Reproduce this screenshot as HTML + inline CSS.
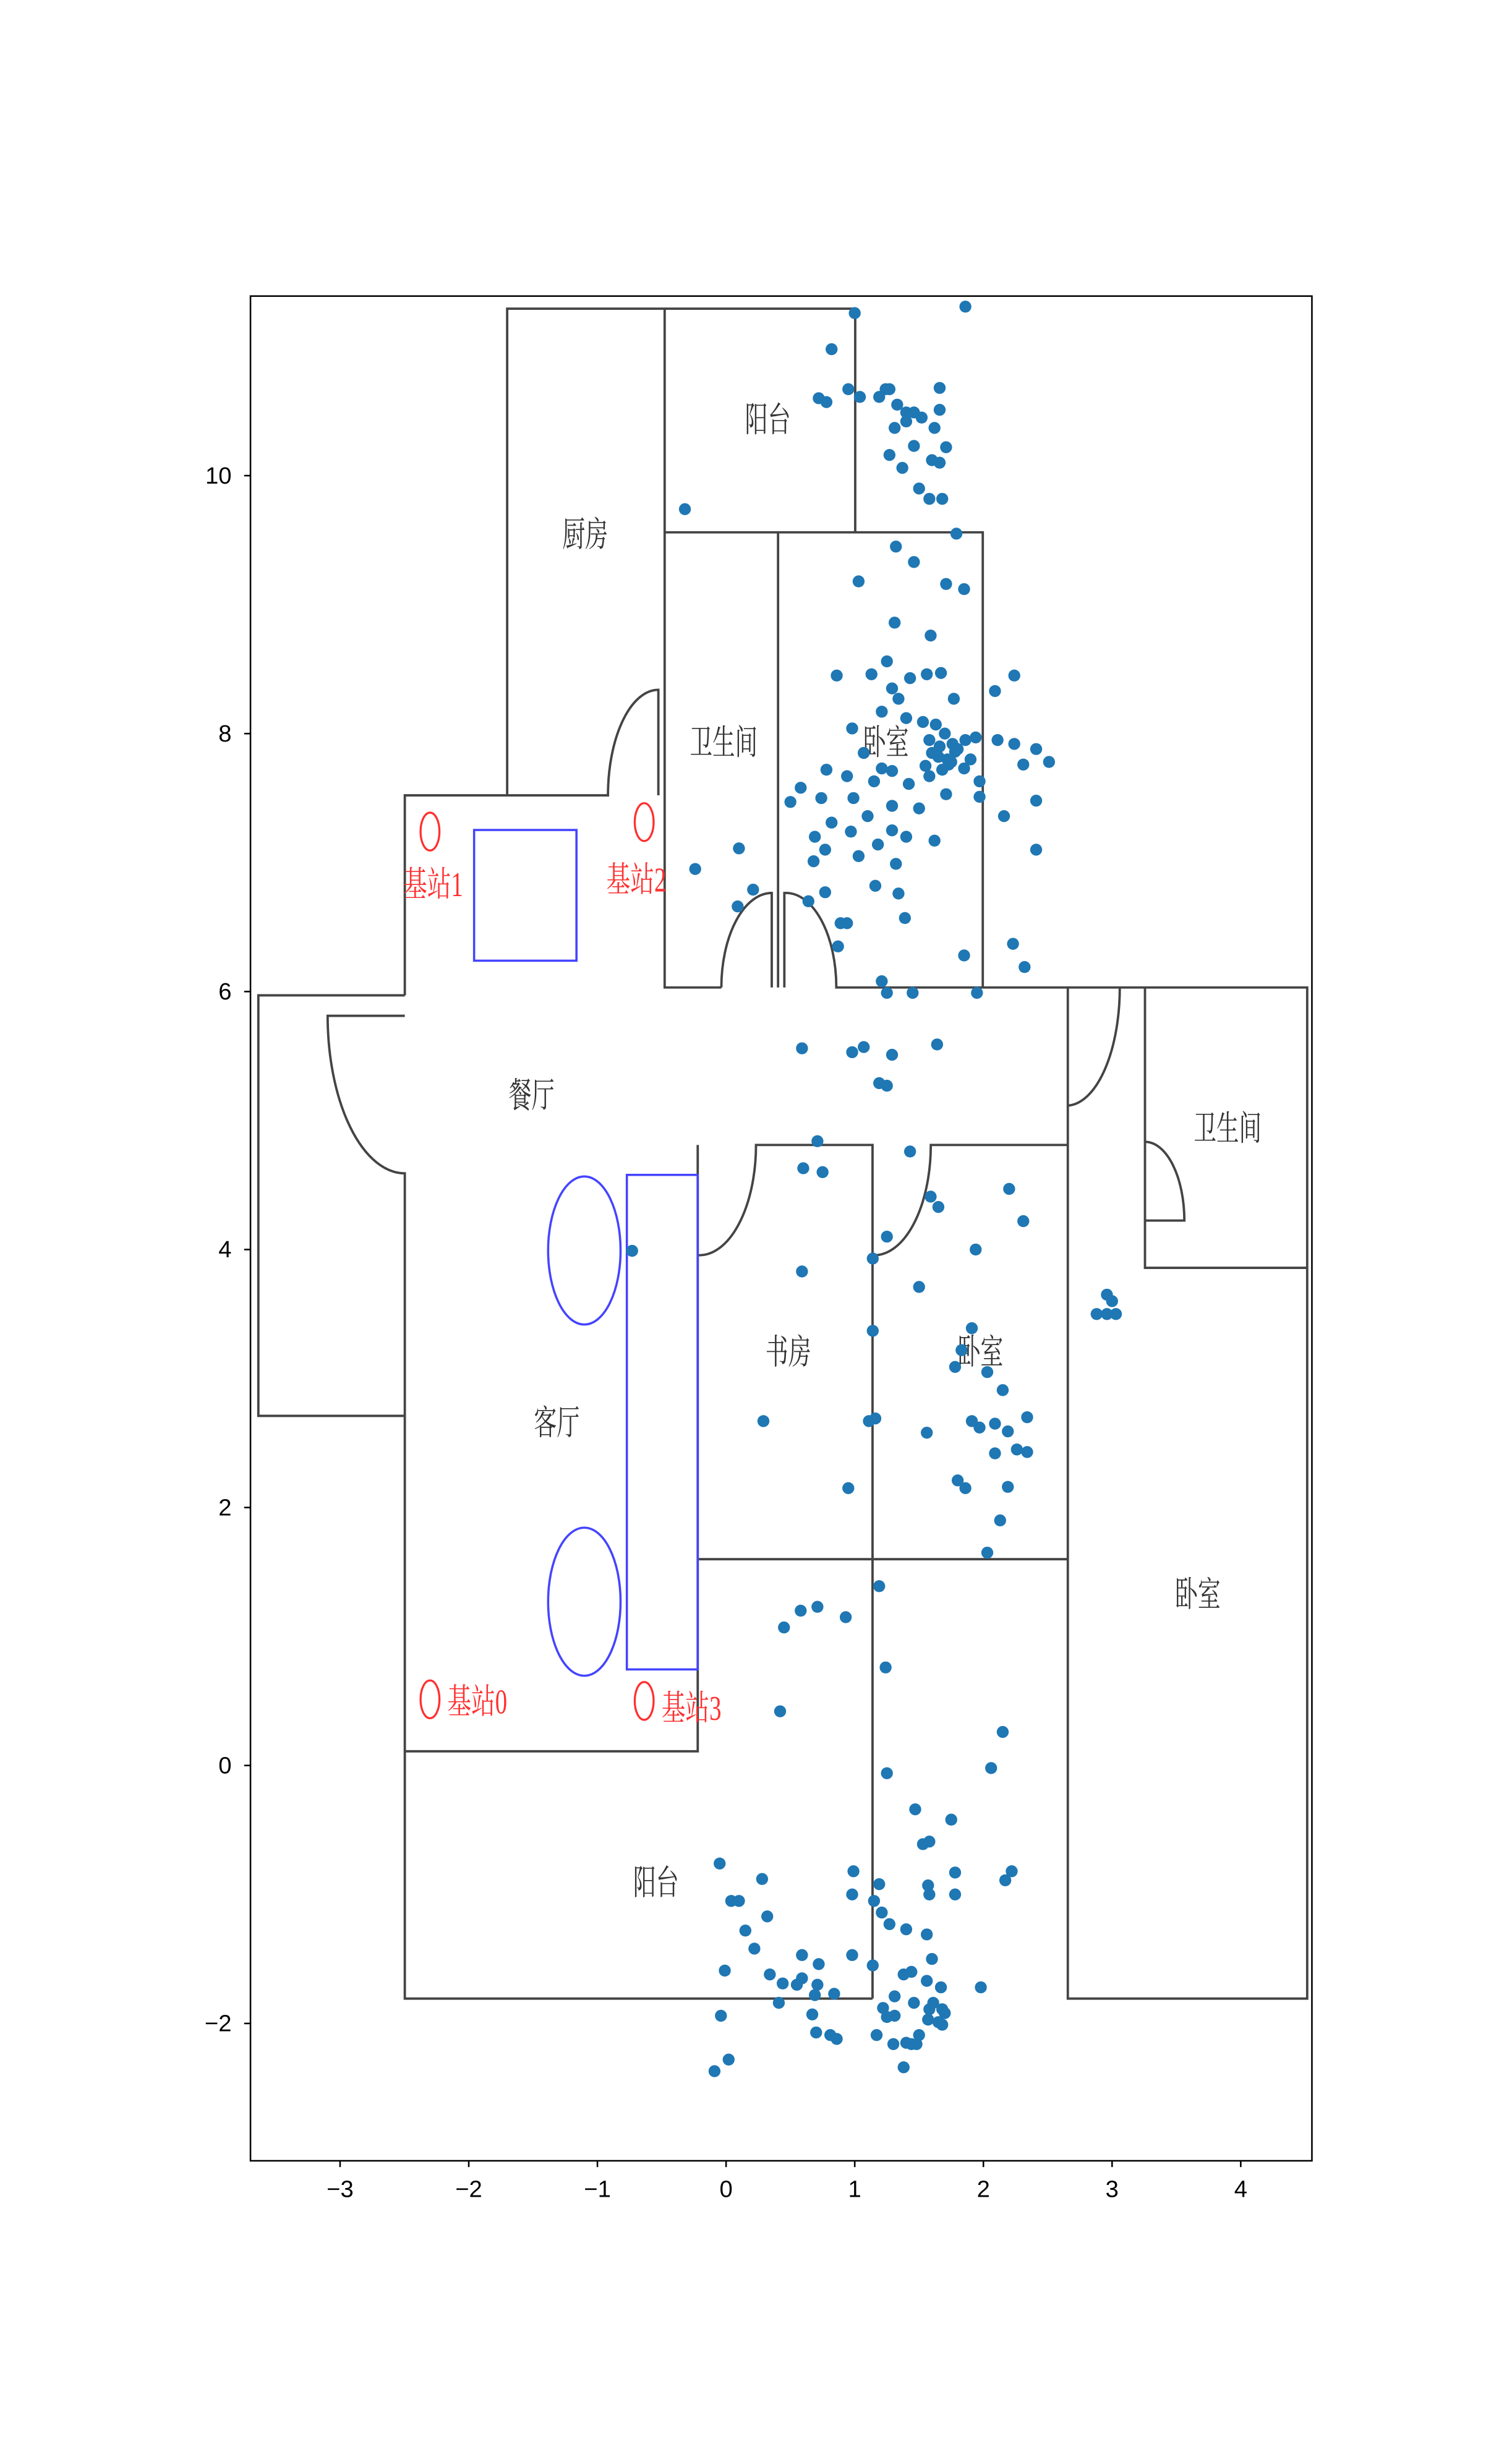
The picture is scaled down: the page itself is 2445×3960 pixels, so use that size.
<!DOCTYPE html>
<html><head><meta charset="utf-8">
<style>
html,body{margin:0;padding:0;background:#fff;}
svg{display:block;}
.wall{fill:none;stroke:#444;stroke-width:1.5;}
.room{font-family:"Liberation Serif","Noto Serif CJK SC",serif;font-size:22px;fill:#333;}
.bs{font-family:"Liberation Serif","Noto Serif CJK SC",serif;font-size:22px;fill:#ff3030;}
.tick{font-family:"Liberation Sans","DejaVu Sans",sans-serif;font-size:15px;fill:#000;}
</style></head>
<body>
<svg id="chart" width="2445" height="3960" viewBox="0 0 960 1555" xmlns="http://www.w3.org/2000/svg">
<rect x="0" y="0" width="960" height="1555" fill="#fff"/>
<g id="plan">
 <path class="wall" d="M322,505 V196 H543 M422,196 V338 M543,196 V338 M422,338 H624 V627 M422,338 V627 H458 M458,627 A32,60 0 0 1 490,567 V627 M498,627 V567 A32,60 0 0 1 531,627 H830 V1269 H678 V627 M494,338 V627 M727,627 V805 H830"/>
 <path class="wall" d="M257,632 V505 H386 A32,67 0 0 1 418,438 V505 M257,632 H164 V899 H257 M257,645 H208 A49,100 0 0 0 257,745 V1269 H554 M257,1112 H443 V727 M443,727 V797 A36,70 0 0 0 480,727 H554 V1269 M554,727 V797 A36,70 0 0 0 591,727 H678 M443,990 H678 M678,702 A34,75 0 0 0 711,627 M727,725 A25,50 0 0 1 752,775 H727"/>
 <rect x="301" y="527" width="65" height="83" fill="none" stroke="#4444ff" stroke-width="1.4"/>
 <rect x="398" y="746" width="45" height="314" fill="none" stroke="#4444ff" stroke-width="1.4"/>
 <ellipse cx="371" cy="794" rx="23" ry="47" fill="none" stroke="#4444ff" stroke-width="1.4"/>
 <ellipse cx="371" cy="1017" rx="23" ry="47" fill="none" stroke="#4444ff" stroke-width="1.4"/>
 <ellipse cx="273" cy="528" rx="6" ry="12" fill="none" stroke="#ff3030" stroke-width="1.3"/>
 <ellipse cx="409" cy="522" rx="6" ry="12" fill="none" stroke="#ff3030" stroke-width="1.3"/>
 <ellipse cx="273" cy="1079" rx="6" ry="12" fill="none" stroke="#ff3030" stroke-width="1.3"/>
 <ellipse cx="409" cy="1080" rx="6" ry="12" fill="none" stroke="#ff3030" stroke-width="1.3"/>
 <text class="bs" x="256" y="569" textLength="38" lengthAdjust="spacingAndGlyphs">基站1</text>
 <text class="bs" x="385" y="566" textLength="38" lengthAdjust="spacingAndGlyphs">基站2</text>
 <text class="bs" x="284" y="1088" textLength="38" lengthAdjust="spacingAndGlyphs">基站0</text>
 <text class="bs" x="420" y="1092" textLength="38" lengthAdjust="spacingAndGlyphs">基站3</text>
 <text class="room" x="473" y="274" textLength="29" lengthAdjust="spacingAndGlyphs">阳台</text>
 <text class="room" x="357" y="347" textLength="29" lengthAdjust="spacingAndGlyphs">厨房</text>
 <text class="room" x="438" y="479" textLength="43" lengthAdjust="spacingAndGlyphs">卫生间</text>
 <text class="room" x="548" y="479" textLength="29" lengthAdjust="spacingAndGlyphs">卧室</text>
 <text class="room" x="323" y="703" textLength="29" lengthAdjust="spacingAndGlyphs">餐厅</text>
 <text class="room" x="758" y="724" textLength="43" lengthAdjust="spacingAndGlyphs">卫生间</text>
 <text class="room" x="486" y="866" textLength="29" lengthAdjust="spacingAndGlyphs">书房</text>
 <text class="room" x="608" y="866" textLength="29" lengthAdjust="spacingAndGlyphs">卧室</text>
 <text class="room" x="339" y="911" textLength="29" lengthAdjust="spacingAndGlyphs">客厅</text>
 <text class="room" x="746" y="1020" textLength="29" lengthAdjust="spacingAndGlyphs">卧室</text>
 <text class="room" x="402" y="1203" textLength="29" lengthAdjust="spacingAndGlyphs">阳台</text>
</g>
<g id="points"></g>
<rect x="159" y="188" width="674" height="1184" fill="none" stroke="#000" stroke-width="1"/>
<g id="axes"></g>
</svg>
<script>
const xTicks = [-3,-2,-1,0,1,2,3,4];
const yTicks = [-2,0,2,4,6,8,10];
const xs = [1.0,1.86,0.82,0.72,0.78,0.95,1.04,1.19,1.24,1.27,1.33,1.4,1.46,1.52,1.31,1.4,1.66,1.66,1.62,1.71,1.6,1.66,1.27,1.37,1.46,1.5,1.58,1.68,-0.32,
1.79,1.32,1.46,1.03,1.71,1.85,1.31,1.59,1.25,0.86,1.13,1.43,1.56,1.67,2.24,1.29,1.34,1.77,2.09,1.21,1.4,1.53,1.63,1.7,1.76,1.86,1.94,2.11,2.24,2.41,2.31,2.51,0.98,1.07,1.21,0.78,0.94,0.58,0.5,0.74,0.99,1.15,1.29,1.42,1.58,1.73,1.85,1.97,1.97,1.71,1.5,1.29,1.1,0.97,0.82,0.69,0.77,0.68,1.03,1.18,1.29,1.4,1.62,2.41,2.16,2.41,1.32,1.16,1.34,0.64,0.77,0.21,0.09,0.1,-0.24,0.89,0.94,1.39,0.87,2.23,1.85,2.32,1.21,1.25,1.45,1.95,
1.6,1.66,1.72,1.8,1.55,1.65,1.75,1.58,1.68,1.78,1.9,
0.59,0.98,1.07,1.29,1.64,1.19,1.25,
0.71,0.6,0.75,1.43,2.2,1.59,1.65,2.31,1.25,1.14,1.94,-0.73,0.59,1.5,2.96,3.0,2.88,2.96,3.03,1.14,1.91,1.83,1.78,2.03,2.15,0.29,1.16,1.11,1.56,1.91,1.97,2.09,2.19,2.34,2.09,2.26,2.34,0.95,1.8,1.86,2.19,2.13,2.03,
1.19,0.71,0.58,0.45,0.93,1.24,0.42,2.15,2.06,1.25,1.47,1.75,1.58,1.53,1.78,2.22,2.17,1.57,1.19,0.99,-0.05,0.28,0.1,0.04,0.98,1.15,1.21,1.58,1.78,0.32,1.27,1.4,0.15,1.56,0.22,0.59,0.98,1.6,0.72,1.14,-0.01,0.34,0.59,1.38,1.44,0.44,0.55,0.71,1.56,1.67,1.98,0.84,0.69,1.31,0.41,1.46,1.61,1.22,1.58,1.68,1.7,0.67,1.31,1.57,1.65,1.25,-0.04,1.68,0.7,0.81,0.86,1.17,1.5,1.3,1.4,1.44,1.48,0.02,-0.09,1.38];
const ys = [11.26,11.31,10.98,10.6,10.57,10.67,10.61,10.61,10.67,10.67,10.55,10.49,10.49,10.45,10.37,10.42,10.68,10.51,10.37,10.22,10.12,10.1,10.16,10.06,10.23,9.9,9.82,9.82,9.74,
9.55,9.45,9.33,9.18,9.16,9.12,8.86,8.76,8.56,8.45,8.46,8.43,8.46,8.47,8.45,8.35,8.27,8.27,8.33,8.17,8.12,8.09,8.07,8.0,7.92,7.95,7.97,7.95,7.92,7.88,7.76,7.78,8.04,7.85,7.73,7.72,7.67,7.58,7.47,7.5,7.5,7.63,7.71,7.61,7.67,7.76,7.73,7.63,7.51,7.53,7.42,7.44,7.36,7.24,7.31,7.2,7.1,7.01,7.05,7.14,7.25,7.2,7.17,7.1,7.36,7.48,6.99,6.82,6.76,6.7,6.77,6.79,6.66,7.11,6.95,6.53,6.53,6.57,6.35,6.37,6.28,6.19,6.08,5.99,5.99,5.99,
7.85,7.9,7.8,7.88,7.75,7.82,7.78,7.95,7.72,7.86,7.8,
5.56,5.53,5.57,5.51,5.59,5.29,5.27,
4.84,4.63,4.6,4.76,4.47,4.41,4.33,4.22,4.1,3.93,4.0,3.99,3.83,3.71,3.65,3.6,3.5,3.5,3.5,3.37,3.39,3.22,3.09,3.05,2.91,2.67,2.69,2.67,2.58,2.67,2.62,2.65,2.59,2.7,2.42,2.45,2.43,2.15,2.21,2.15,2.16,1.9,1.65,
1.39,1.23,1.2,1.07,1.15,0.76,0.42,0.26,-0.02,-0.06,-0.34,-0.42,-0.59,-0.61,-0.83,-0.82,-0.89,-0.93,-0.92,-0.82,-0.76,-0.88,-1.05,-1.05,-1.0,-1.05,-1.14,-1.0,-1.0,-1.17,-1.23,-1.27,-1.28,-1.31,-1.42,-1.47,-1.47,-1.5,-1.54,-1.55,-1.59,-1.62,-1.65,-1.62,-1.6,-1.69,-1.7,-1.7,-1.67,-1.72,-1.72,-1.77,-1.78,-1.79,-1.84,-1.84,-1.84,-1.88,-1.89,-1.89,-1.92,-1.93,-1.94,-1.97,-1.99,-1.95,-1.94,-2.01,-2.07,-2.09,-2.12,-2.09,-2.09,-2.16,-2.15,-2.16,-2.16,-2.28,-2.37,-2.34];
const NS = "http://www.w3.org/2000/svg";
function sx(v){ return 461 + v*81.7; }
function sy(v){ return 1121 - v*81.9; }
const pg = document.getElementById('points');
for (let i=0;i<xs.length;i++){
  const c = document.createElementNS(NS,'circle');
  c.setAttribute('cx', sx(xs[i])); c.setAttribute('cy', sy(ys[i]));
  c.setAttribute('r', 3.8); c.setAttribute('fill', '#1f77b4');
  
  
  pg.appendChild(c);
}
const ag = document.getElementById('axes');
xTicks.forEach(t=>{
  const l = document.createElementNS(NS,'line');
  l.setAttribute('x1', sx(t)); l.setAttribute('x2', sx(t));
  l.setAttribute('y1', 1372); l.setAttribute('y2', 1376);
  l.setAttribute('stroke', '#000');
  
  
  ag.appendChild(l);
  const tx = document.createElementNS(NS,'text');
  tx.setAttribute('x', sx(t)); tx.setAttribute('y', 1395);
  tx.setAttribute('text-anchor', 'middle'); tx.setAttribute('class', 'tick');
  tx.textContent = t < 0 ? '\u2212' + Math.abs(t) : String(t);
  
  
  ag.appendChild(tx);
});
yTicks.forEach(t=>{
  const l = document.createElementNS(NS,'line');
  l.setAttribute('x1', 155); l.setAttribute('x2', 159);
  l.setAttribute('y1', sy(t)); l.setAttribute('y2', sy(t));
  l.setAttribute('stroke', '#000');
  
  
  ag.appendChild(l);
  const tx = document.createElementNS(NS,'text');
  tx.setAttribute('x', 147); tx.setAttribute('y', sy(t)+5);
  tx.setAttribute('text-anchor', 'end'); tx.setAttribute('class', 'tick');
  tx.textContent = t < 0 ? '\u2212' + Math.abs(t) : String(t);
  
  
  ag.appendChild(tx);
});
</script>
</body></html>
